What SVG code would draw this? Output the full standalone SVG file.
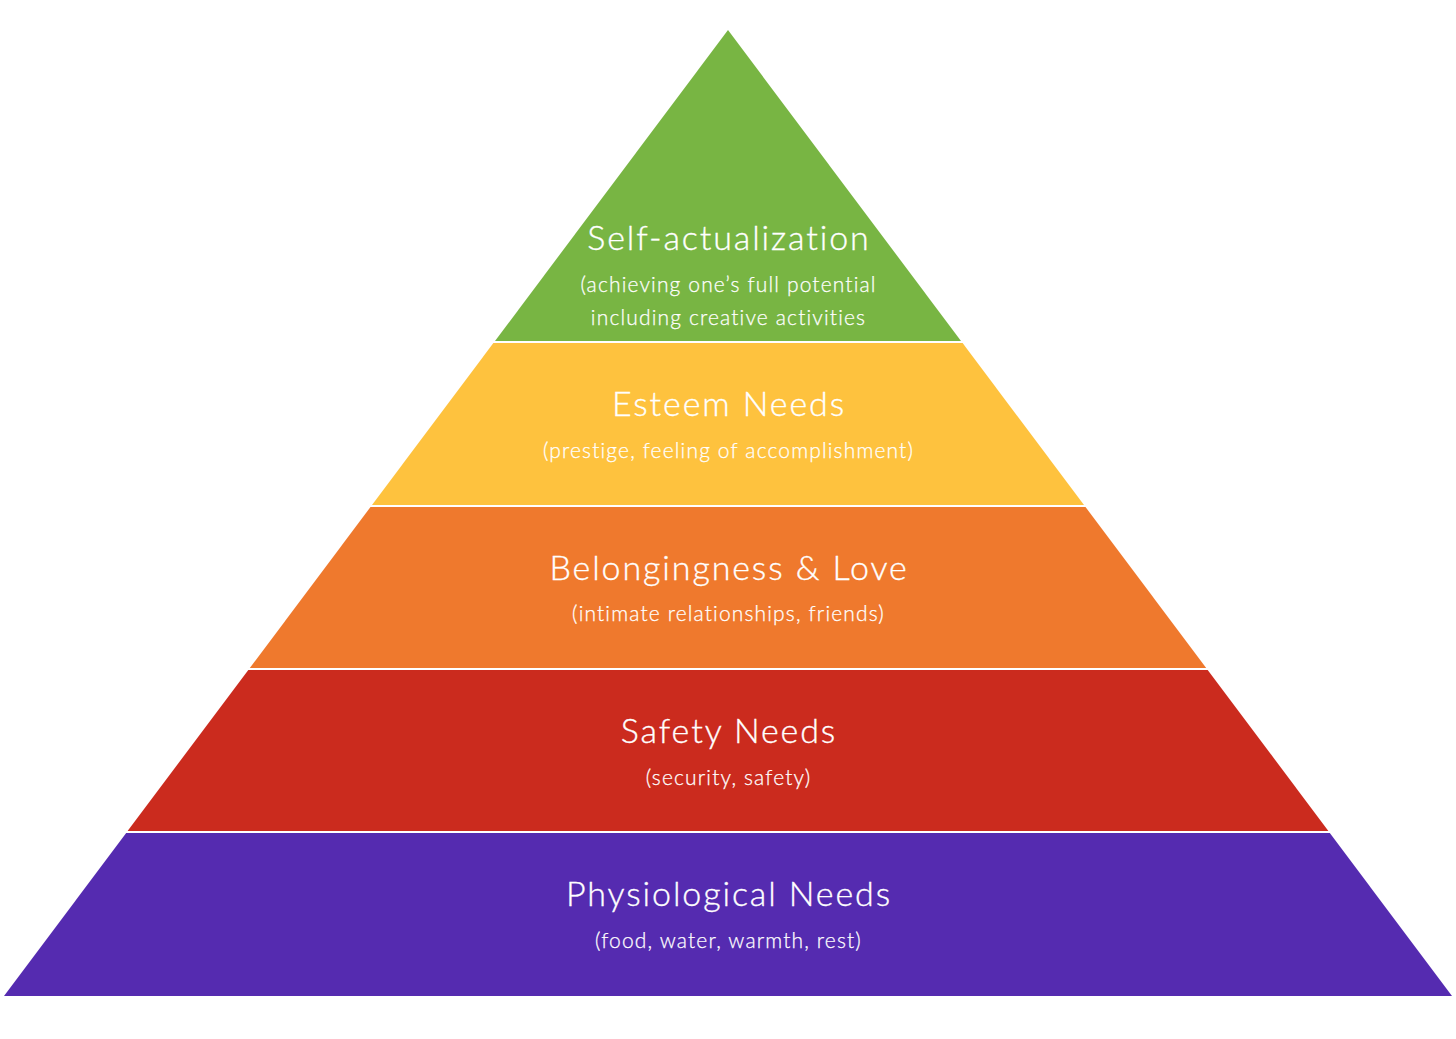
<svg xmlns="http://www.w3.org/2000/svg" width="1456" height="1039" viewBox="0 0 1456 1039">
<style>
.t{font-family:Lato,"Noto Sans",sans-serif;fill:#fff;stroke:#fff;stroke-width:0.35px;text-anchor:middle;font-variant-ligatures:none;font-weight:300}
.h{font-size:34px;letter-spacing:1.9px}
.s{font-size:21px;letter-spacing:1.15px;stroke-width:0.25px}
</style>
<rect width="1456" height="1039" fill="#fff"/>
<g id="self-actualization">
<polygon points="728,30 961,341 495,341" fill="#78B543"/>
<text class="t h" x="729" y="250">Self-actualization</text>
<text class="t s" x="728.5" y="292">(achieving one’s full potential</text>
<text class="t s" x="728.5" y="325">including creative activities</text>
</g>
<g id="esteem">
<polygon points="493.4,343 962.6,343 1084,505 372,505" fill="#FEC23E"/>
<text class="t h" x="729" y="416">Esteem Needs</text>
<text class="t s" x="728.5" y="458">(prestige, feeling of accomplishment)</text>
</g>
<g id="belonging">
<polygon points="370.5,507 1085.5,507 1206.2,668 249.8,668" fill="#EF792D"/>
<text class="t h" x="729" y="580">Belongingness &amp; Love</text>
<text class="t s" x="728.5" y="621">(intimate relationships, friends)</text>
</g>
<g id="safety">
<polygon points="248.3,670 1207.7,670 1328.4,831 127.6,831" fill="#CB2B1E"/>
<text class="t h" x="729" y="743">Safety Needs</text>
<text class="t s" x="728.5" y="785">(security, safety)</text>
</g>
<g id="physiological">
<polygon points="126.2,833 1329.8,833 1452,996 4,996" fill="#552BB0"/>
<text class="t h" x="729" y="906">Physiological Needs</text>
<text class="t s" x="728.5" y="948">(food, water, warmth, rest)</text>
</g>
<g id="connectors"/>
</svg>
